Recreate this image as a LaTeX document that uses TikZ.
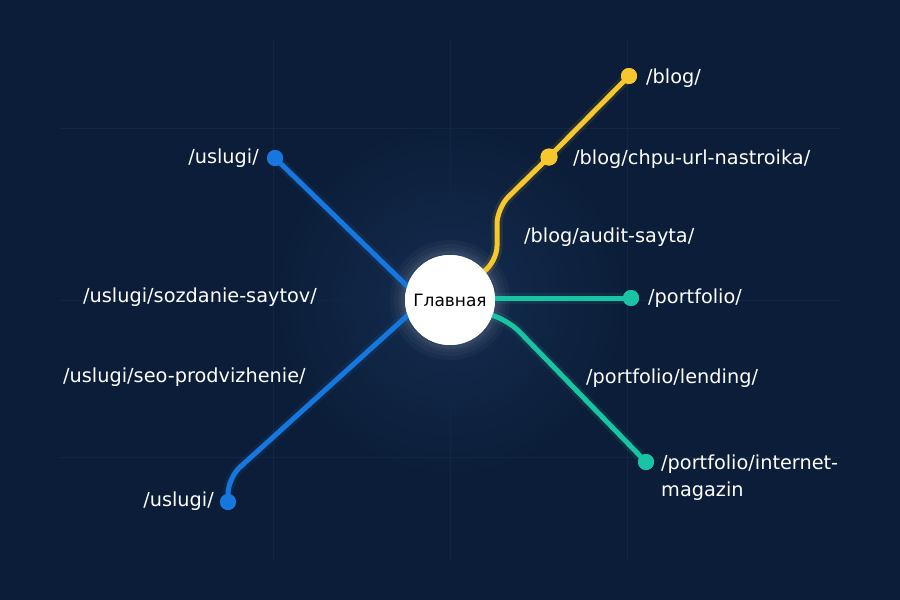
\documentclass[tikz,border=0pt]{standalone}
\usepackage{fontspec}
\setmainfont{DejaVu Sans}
\definecolor{bg}{RGB}{11,29,56}
\definecolor{glowc}{RGB}{21,45,80}
\definecolor{gridc}{RGB}{17,38,68}
\definecolor{bluec}{RGB}{22,120,222}
\definecolor{yellowc}{RGB}{246,200,46}
\definecolor{tealc}{RGB}{24,196,164}
\tikzset{
  label/.style={text=white, font=\fontsize{19.3}{27}\selectfont, inner sep=0pt},
  link/.style={line width=5pt, line cap=round, line join=round, rounded corners=16pt},
  halo/.style={line width=11pt, line cap=round, line join=round, rounded corners=16pt, opacity=0.10},
  dotnode/.style={circle, inner sep=0pt, minimum size=16pt},
  hub/.style={circle, fill=white, inner sep=0pt, minimum size=90pt, text=black,
    font=\fontsize{17}{19}\selectfont},
  gridline/.style={gridc, line width=0.8pt}
}
\begin{document}
\begin{tikzpicture}[x=1pt,y=-1pt]
  % background
  \fill[bg] (0,0) rectangle (900,600);
  \useasboundingbox (0,0) rectangle (900,600);
  \shade[inner color=glowc, outer color=bg] (450,300) circle (180);
  % faint grid
  \foreach \gx in {273,450,627} \draw[gridline] (\gx,40) -- (\gx,560);
  \foreach \gy in {128,300,457} \draw[gridline] (60,\gy) -- (840,\gy);

  % hub glow
  \foreach \r/\o in {60/0.03,56/0.03,52/0.04,49/0.05}
    \fill[white, opacity=\o] (450,300) circle (\r);
  \node[hub] (C) at (450,300) {Главная};

  % dots
  \node[dotnode, fill=bluec] (u1) at (275,158) {};
  \node[dotnode, fill=bluec] (u4) at (228,502) {};
  \node[dotnode, fill=yellowc, minimum size=17pt] (b2) at (549,157) {};
  \node[dotnode, fill=yellowc] (b1) at (629,76) {};
  \node[dotnode, fill=tealc] (p1) at (631,298) {};
  \node[dotnode, fill=tealc] (p3) at (646,462) {};
  \coordinate (ybend1) at (497,262);
  \coordinate (ybend2) at (497,208);
  \coordinate (bbend) at (228,478);
  \coordinate (tbend) at (508,320);
  \coordinate (pstart) at (490,298);

  % connectors (halo + line)
  \draw[halo, bluec] (u1.center) -- (C.162);
  \draw[halo, bluec] (u4.center) -- (bbend) -- (C.200);
  \draw[halo, yellowc] (C.40) -- (ybend1) -- (ybend2) -- (b2.center) -- (b1.center);
  \draw[halo, tealc] (pstart) -- (p1.center);
  \draw[halo, tealc] (C.-20) -- (tbend) -- (p3.center);

  \draw[link, bluec] (u1.center) -- (C.162);
  \draw[link, bluec] (u4.center) -- (bbend) -- (C.200);
  \draw[link, yellowc] (C.40) -- (ybend1) -- (ybend2) -- (b2.center) -- (b1.center);
  \draw[link, tealc] (pstart) -- (p1.center);
  \draw[link, tealc] (C.-20) -- (tbend) -- (p3.center);

  % redraw hub and dots on top
  \node[hub] at (450,300) {Главная};
  \fill[bluec] (u1) circle (8);
  \fill[bluec] (u4) circle (8);
  \fill[yellowc] (b2) circle (8.5);
  \fill[yellowc] (b1) circle (8);
  \fill[tealc] (p1) circle (8);
  \fill[tealc] (p3) circle (8);

  % labels
  \node[label, anchor=east] (lu1) at (259,158) {/uslugi/};
  \node[label, anchor=west] (lu2) at (83,297) {/uslugi/sozdanie-saytov/};
  \node[label, anchor=west] (lu3) at (63,377) {/uslugi/seo-prodvizhenie/};
  \node[label, anchor=east] (lu4) at (214,501) {/uslugi/};
  \node[label, anchor=west] (lb1) at (646,78) {/blog/};
  \node[label, anchor=west] (lb2) at (573,159) {/blog/chpu-url-nastroika/};
  \node[label, anchor=west] (lb3) at (524,237) {/blog/audit-sayta/};
  \node[label, anchor=west] (lp1) at (648,298) {/portfolio/};
  \node[label, anchor=west] (lp2) at (586,378) {/portfolio/lending/};
  \node[label, anchor=north west, align=left] (lp3) at (661,455) {/portfolio/internet-\\magazin};
\end{tikzpicture}
\end{document}
